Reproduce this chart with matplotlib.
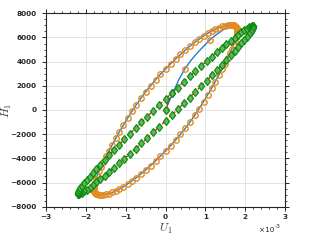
import numpy as np
import matplotlib
matplotlib.use('Agg')
import matplotlib.pyplot as plt
from matplotlib.ticker import MultipleLocator, ScalarFormatter

plt.rcParams['mathtext.fontset'] = 'cm'

# ---------------- data (U in units of 1e-3) ----------------
# series 1: initial curve (blue line), markers only at some of these
u1_init = [0.0, 0.10, 0.20, 0.33, 0.48, 0.65, 0.82, 0.98, 1.12, 1.25, 1.36, 1.45, 1.53, 1.59]
h1_init = [0, 780, 1510, 2480, 3380, 4150, 4800, 5350, 5820, 6170, 6430, 6640, 6830, 6960]
init_marks = [0, 4, 8]

# series 1: steady loop (blue line + orange circles)
u1_loop = [0.0, 0.126, 0.251, 0.374, 0.496, 0.616, 0.732, 0.845, 0.954, 1.058,
           1.157, 1.250, 1.338, 1.418, 1.492, 1.559, 1.618, 1.669, 1.712, 1.747,
           1.773, 1.790, 1.799, 1.799, 1.790, 1.773, 1.747, 1.712, 1.669, 1.618,
           1.559, 1.492, 1.418, 1.338, 1.250, 1.157, 1.058, 0.954, 0.845, 0.732,
           0.616, 0.496, 0.374, 0.251, 0.126,
           0.0, -0.126, -0.251, -0.374, -0.496, -0.616, -0.732, -0.845, -0.954, -1.058,
           -1.157, -1.250, -1.338, -1.418, -1.492, -1.559, -1.618, -1.669, -1.712, -1.747,
           -1.773, -1.790, -1.799, -1.799, -1.790, -1.773, -1.747, -1.712, -1.669, -1.618,
           -1.559, -1.492, -1.418, -1.338, -1.250, -1.157, -1.058, -0.954, -0.845, -0.732,
           -0.616, -0.496, -0.374, -0.251, -0.126]
h1_loop = [3394, 3812, 4213, 4593, 4950, 5283, 5590, 5871, 6122, 6344,
           6535, 6694, 6821, 6914, 6973, 6999, 7020, 7018, 6991, 6941,
           6869, 6764, 6627, 6460, 6254, 6010, 5730, 5414, 5065, 4685,
           4275, 3838, 3375, 2879, 2352, 1806, 1253, 686, 118, -440,
           -985, -1515, -2017, -2499, -2958,
           -3394, -3812, -4213, -4593, -4950, -5283, -5590, -5871, -6122, -6344,
           -6535, -6694, -6821, -6914, -6973, -6999, -7020, -7018, -6991, -6941,
           -6869, -6764, -6627, -6460, -6254, -6010, -5730, -5414, -5065, -4685,
           -4275, -3838, -3375, -2879, -2352, -1806, -1253, -686, -118, 440,
           985, 1515, 2017, 2499, 2958]
loop1_start = 16   # index where the initial curve joins the loop

# series 2: red dashed line + green diamonds
u2_init = [0.0]
h2_init = [0]
u2_loop = [0.0, 0.154, 0.306, 0.457, 0.606, 0.752, 0.895, 1.033, 1.166, 1.293,
           1.414, 1.528, 1.635, 1.734, 1.824, 1.905, 1.977, 2.040, 2.092, 2.135,
           2.167, 2.188, 2.199, 2.199, 2.188, 2.167, 2.135, 2.092, 2.040, 1.977,
           1.905, 1.824, 1.734, 1.635, 1.528, 1.414, 1.293, 1.166, 1.033, 0.895,
           0.752, 0.606, 0.457, 0.306, 0.154,
           0.0, -0.154, -0.306, -0.457, -0.606, -0.752, -0.895, -1.033, -1.166, -1.293,
           -1.414, -1.528, -1.635, -1.734, -1.824, -1.905, -1.977, -2.040, -2.092, -2.135,
           -2.167, -2.188, -2.199, -2.199, -2.188, -2.167, -2.135, -2.092, -2.040, -1.977,
           -1.905, -1.824, -1.734, -1.635, -1.528, -1.414, -1.293, -1.166, -1.033, -0.895,
           -0.752, -0.606, -0.457, -0.306, -0.154]
h2_loop = [907, 1386, 1857, 2320, 2771, 3209, 3631, 4036, 4421, 4784,
           5124, 5439, 5727, 5988, 6220, 6421, 6591, 6728, 6833, 6905,
           6943, 6947, 6918, 6855, 6758, 6628, 6466, 6273, 6049, 5795,
           5513, 5205, 4871, 4514, 4134, 3734, 3316, 2882, 2434, 1974,
           1505, 1027, 546, 61, -424,
           -907, -1386, -1857, -2320, -2771, -3209, -3631, -4036, -4421, -4784,
           -5124, -5439, -5727, -5988, -6220, -6421, -6591, -6728, -6833, -6905,
           -6943, -6947, -6918, -6855, -6758, -6628, -6466, -6273, -6049, -5795,
           -5513, -5205, -4871, -4514, -4134, -3734, -3316, -2882, -2434, -1974,
           -1505, -1027, -546, -61, 424]
loop2_start = 1

xticks = [-3, -2, -1, 0, 1, 2, 3]
yticks = [-8000, -6000, -4000, -2000, 0, 2000, 4000, 6000, 8000]

# ---------------- build trajectories ----------------
scale = 1e-3
ul1 = np.array(u1_loop); hl1 = np.array(h1_loop)
s1_u = np.concatenate([u1_init, ul1[loop1_start:], ul1[:loop1_start + 1]]) * scale
s1_h = np.concatenate([h1_init, hl1[loop1_start:], hl1[:loop1_start + 1]])
m1_u = np.concatenate([np.array(u1_init)[init_marks], ul1]) * scale
m1_h = np.concatenate([np.array(h1_init)[init_marks], hl1])

ul2 = np.array(u2_loop); hl2 = np.array(h2_loop)
s2_u = np.concatenate([u2_init, ul2[loop2_start:], ul2[:loop2_start + 1]]) * scale
s2_h = np.concatenate([h2_init, hl2[loop2_start:], hl2[:loop2_start + 1]])

blue = '#1f7fd0'
orange = '#E58A22'
green = '#0a8a0a'

fig = plt.figure(figsize=(3.16, 2.46), dpi=100)
ax = fig.add_axes([0.1456, 0.1598, 0.7563, 0.7862])

ax.plot(s1_u, s1_h, color=blue, lw=1.0, zorder=3)
ax.plot(m1_u, m1_h, ls='none', marker='o', ms=3.9, mfc='none', mec=orange, mew=1.0, zorder=4)
ax.plot(s2_u, s2_h, color='red', lw=0.9, ls=(0, (2.5, 1.5)), zorder=5)
ax.plot(s2_u, s2_h, ls='none', marker='d', ms=4.4,
        mfc='#5cb85c', mec=green, mew=0.9, alpha=0.95, zorder=5)

ax.set_xlim(-3e-3, 3e-3)
ax.set_ylim(-8000, 8000)
ax.set_xticks(np.array(xticks) * scale)
ax.set_yticks(yticks)
ax.xaxis.set_minor_locator(MultipleLocator(0.2e-3))
ax.yaxis.set_minor_locator(MultipleLocator(500))

fmt = ScalarFormatter(useMathText=False)
fmt.set_powerlimits((-3, -3))
ax.xaxis.set_major_formatter(fmt)
ax.xaxis.get_offset_text().set_visible(False)

ax.grid(True, which='major', color='#e3e3e3', lw=0.7, zorder=0)
ax.set_axisbelow(True)

ax.tick_params(which='both', direction='out', top=True, right=True, colors='#262626')
ax.tick_params(which='major', length=3.0, width=0.7)
ax.tick_params(which='minor', length=1.6, width=0.6)
ax.tick_params(axis='x', which='major', pad=2.0)
ax.tick_params(axis='y', which='major', pad=4.0)
for lab in ax.get_xticklabels() + ax.get_yticklabels():
    lab.set_fontfamily('DejaVu Sans')
    lab.set_fontweight('bold')
    lab.set_fontsize(5.2)
for sp in ax.spines.values():
    sp.set_linewidth(0.8)
    sp.set_color('#262626')

ax.set_xlabel(r'$U_1$', fontsize=8.5, color='#404040')
ax.xaxis.set_label_coords(0.5, -0.08)
ax.set_ylabel(r'$H_1$', fontsize=8.5, color='#404040')
ax.yaxis.set_label_coords(-0.135, 0.5)

fig.text(274 / 316, 1 - 230 / 246, '×10', fontsize=5.2, ha='right', va='center',
         family='DejaVu Sans', color='#262626')
fig.text(274.5 / 316, 1 - 226.5 / 246, '-3', fontsize=4.2, ha='left', va='center',
         family='DejaVu Sans', color='#262626')

fig.savefig('out.png', dpi=100)
